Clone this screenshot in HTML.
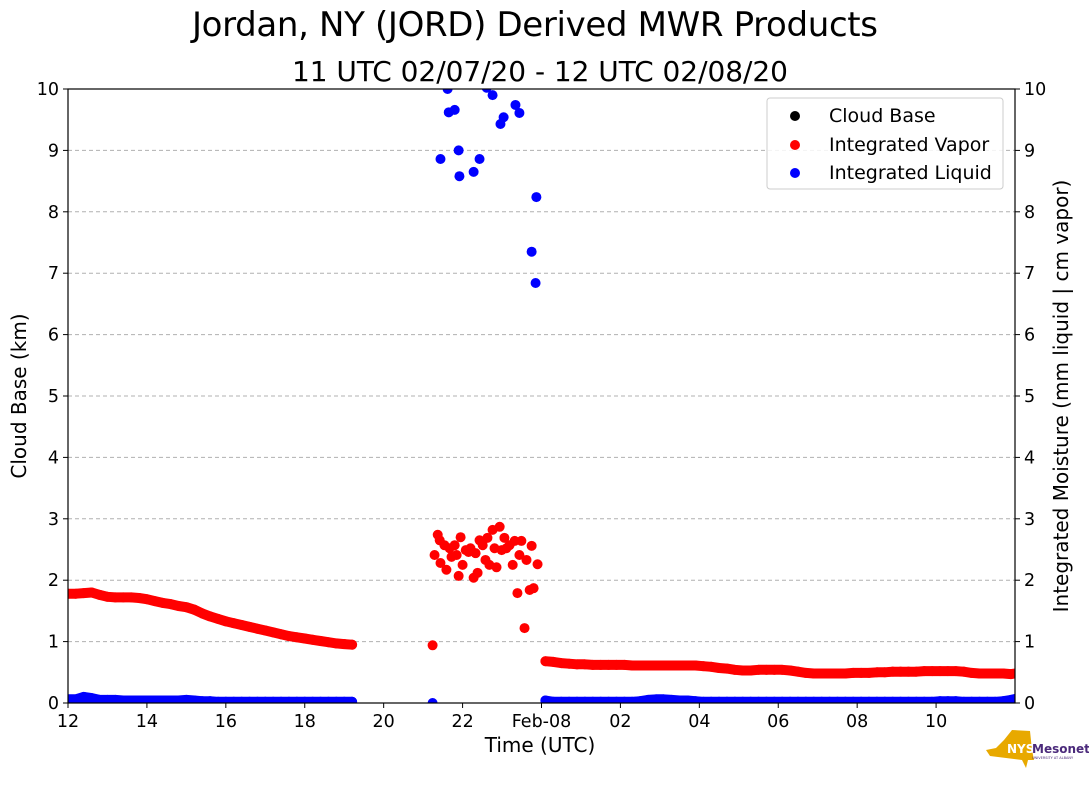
<!DOCTYPE html>
<html><head><meta charset="utf-8"><style>
body{margin:0;background:#fff;}
svg text{font-family:"DejaVu Sans","Liberation Sans",sans-serif;}
</style></head><body>
<svg id="chart" width="1089" height="804" xmlns="http://www.w3.org/2000/svg">
<defs><clipPath id="pc"><rect x="68" y="89" width="947" height="614"/></clipPath></defs>
<rect width="1089" height="804" fill="#fff"/>
<text x="535" y="36" font-size="34" text-anchor="middle" textLength="686">Jordan, NY (JORD) Derived MWR Products</text>
<text x="540" y="81" font-size="28" text-anchor="middle" textLength="496">11 UTC 02/07/20 - 12 UTC 02/08/20</text>
<g id="grid"></g>
<g id="marks" clip-path="url(#pc)"></g>
<rect x="68" y="89" width="947" height="614" fill="none" stroke="#000" stroke-width="1.2"/>
<g id="axes"></g>
<text x="540" y="752" font-size="20" text-anchor="middle">Time (UTC)</text>
<text transform="translate(26,396) rotate(-90)" font-size="20" text-anchor="middle">Cloud Base (km)</text>
<text transform="translate(1068,396) rotate(-90)" font-size="20" text-anchor="middle">Integrated Moisture (mm liquid | cm vapor)</text>
<g>
<rect x="767" y="98" width="236" height="91" rx="3" fill="#fff" fill-opacity="0.85" stroke="#ccc"/>
<circle cx="795" cy="116" r="5" fill="#000"/><text x="829" y="122" font-size="19">Cloud Base</text>
<circle cx="795" cy="145" r="5" fill="red"/><text x="829" y="151" font-size="19">Integrated Vapor</text>
<circle cx="795" cy="173" r="5" fill="blue"/><text x="829" y="179" font-size="19">Integrated Liquid</text>
</g>
<g>
<path d="M1012 730 L1030 731 L1032 750 L1034 760 L1028 760 L1026 768 L1022 760 L990 756 L986 750 L996 748 L1004 740 Z" fill="#e8a900"/>
<text x="1007" y="753" font-size="12" font-weight="bold" fill="#fff">NYS</text>
<text x="1032" y="753" font-size="12" font-weight="bold" fill="#4b2a7b">Mesonet</text>
<text x="1032" y="759" font-size="3.5" fill="#4b2a7b">UNIVERSITY AT ALBANY</text>
</g>
</svg>
<script>
const xTickHours=[12,14,16,18,20,22,24,26,28,30,32,34];
const xTickLabels=["12","14","16","18","20","22","Feb-08","02","04","06","08","10"];
const yTicks=[0,1,2,3,4,5,6,7,8,9,10];
const vaporEarlyStart=12.0, vaporEarlyStep=0.2;
const vaporEarly=[1.78,1.78,1.79,1.80,1.76,1.73,1.72,1.72,1.72,1.71,1.69,1.66,1.63,1.61,1.58,1.56,1.52,1.46,1.41,1.37,1.33,1.30,1.27,1.24,1.21,1.18,1.15,1.12,1.09,1.07,1.05,1.03,1.01,0.99,0.97,0.96,0.95];
const vaporLateStart=24.1, vaporLateStep=0.2;
const vaporLate=[0.68,0.67,0.65,0.64,0.63,0.63,0.62,0.62,0.62,0.62,0.62,0.61,0.61,0.61,0.61,0.61,0.61,0.61,0.61,0.61,0.60,0.59,0.57,0.56,0.54,0.53,0.53,0.54,0.54,0.54,0.54,0.53,0.51,0.49,0.48,0.48,0.48,0.48,0.48,0.49,0.49,0.49,0.50,0.50,0.51,0.51,0.51,0.51,0.52,0.52,0.52,0.52,0.52,0.51,0.49,0.48,0.48,0.48,0.48,0.47,0.49];
const vaporClusterT=[21.24,21.29,21.37,21.42,21.44,21.54,21.59,21.67,21.72,21.80,21.85,21.90,21.95,22.00,22.08,22.15,22.20,22.28,22.33,22.38,22.43,22.51,22.58,22.63,22.68,22.76,22.81,22.86,22.94,22.99,23.06,23.11,23.19,23.27,23.32,23.39,23.44,23.49,23.57,23.62,23.70,23.75,23.80,23.90];
const vaporClusterV=[0.94,2.41,2.74,2.65,2.28,2.57,2.17,2.52,2.38,2.57,2.41,2.07,2.70,2.25,2.49,2.46,2.52,2.04,2.44,2.12,2.65,2.57,2.33,2.69,2.25,2.82,2.52,2.21,2.87,2.49,2.69,2.52,2.57,2.25,2.64,1.79,2.41,2.64,1.22,2.33,1.84,2.56,1.87,2.26];
const liquidHighT=[21.44,21.62,21.65,21.80,21.90,21.92,22.28,22.43,22.61,22.76,22.96,23.04,23.34,23.44,23.75,23.85,23.87];
const liquidHighV=[8.86,10.0,9.62,9.66,9.0,8.58,8.65,8.86,10.02,9.9,9.43,9.54,9.74,9.61,7.35,6.84,8.24];
const liquidEarly=[0.06,0.06,0.10,0.08,0.05,0.05,0.05,0.04,0.04,0.04,0.04,0.04,0.04,0.04,0.04,0.05,0.04,0.03,0.03,0.02,0.02,0.02,0.02,0.02,0.02,0.02,0.02,0.02,0.02,0.02,0.02,0.02,0.02,0.02,0.02,0.02,0.02];
const liquidLate=[0.04,0.02,0.02,0.02,0.02,0.02,0.02,0.02,0.02,0.02,0.02,0.02,0.03,0.05,0.06,0.06,0.05,0.04,0.04,0.03,0.02,0.02,0.02,0.02,0.02,0.02,0.02,0.02,0.02,0.02,0.02,0.02,0.02,0.02,0.02,0.02,0.02,0.02,0.02,0.02,0.02,0.02,0.02,0.02,0.02,0.02,0.02,0.02,0.02,0.02,0.03,0.03,0.03,0.02,0.02,0.02,0.02,0.02,0.03,0.05,0.08];
const liquidIsoT=[21.24], liquidIsoV=[0.0];

const NS="http://www.w3.org/2000/svg";
const X0=68,X1=1015,Y0=703,Y1=89,TMIN=12,TMAX=36,VMIN=0,VMAX=10;
const xs=t=>X0+(t-TMIN)/(TMAX-TMIN)*(X1-X0);
const ys=v=>Y0-(v-VMIN)/(VMAX-VMIN)*(Y0-Y1);
function mk(tag,attrs,parent){const e=document.createElementNS(NS,tag);for(const k in attrs)e.setAttribute(k,attrs[k]);parent.appendChild(e);return e;}
const grid=document.getElementById('grid'),axes=document.getElementById('axes'),marks=document.getElementById('marks');
yTicks.forEach(v=>{
  const y=ys(v);
  if(v>0&&v<10){const g=mk('line',{x1:X0,x2:X1,y1:y,y2:y,stroke:'#b0b0b0','stroke-dasharray':'4,3'},grid);
  
  }
  mk('line',{x1:X0-5,x2:X0,y1:y,y2:y,stroke:'#000'},axes);
  mk('line',{x1:X1,x2:X1+5,y1:y,y2:y,stroke:'#000'},axes);
  const t1=mk('text',{x:X0-9,y:y+6,'font-size':17.5,'text-anchor':'end'},axes);t1.textContent=v;
  
  
  const t2=mk('text',{x:X1+9,y:y+6,'font-size':17.5},axes);t2.textContent=v;
  
  
});
xTickHours.forEach((h,i)=>{
  const x=xs(h);
  mk('line',{x1:x,x2:x,y1:Y0,y2:Y0+5,stroke:'#000'},axes);
  const t=mk('text',{x:x,y:Y0+24,'font-size':17.5,'text-anchor':'middle'},axes);t.textContent=xTickLabels[i];
  
  
});
function band(start,step,vals,c,name){
  const pts=vals.map((v,i)=>xs(start+i*step).toFixed(1)+','+ys(v).toFixed(1)).join(' ');
  const p=mk('polyline',{points:pts,fill:'none',stroke:c,'stroke-width':10,'stroke-linecap':'round','stroke-linejoin':'round'},marks);
  
  
}
function dot(t,v,c,name){const e=mk('circle',{cx:xs(t),cy:ys(v),r:5,fill:c},marks);
  
  }
band(vaporEarlyStart,vaporEarlyStep,vaporEarly,'red','vapor-band-early');
band(vaporLateStart,vaporLateStep,vaporLate,'red','vapor-band-late');
band(vaporEarlyStart,vaporEarlyStep,liquidEarly,'blue','liquid-band-early');
band(vaporLateStart,vaporLateStep,liquidLate,'blue','liquid-band-late');
vaporEarly.forEach((v,i)=>dot(vaporEarlyStart+i*vaporEarlyStep,v,'red','vapor-point'));
vaporLate.forEach((v,i)=>dot(vaporLateStart+i*vaporLateStep,v,'red','vapor-point'));
vaporClusterT.forEach((t,i)=>dot(t,vaporClusterV[i],'red','vapor-point'));
liquidEarly.forEach((v,i)=>dot(vaporEarlyStart+i*vaporEarlyStep,v,'blue','liquid-point'));
liquidLate.forEach((v,i)=>dot(vaporLateStart+i*vaporLateStep,v,'blue','liquid-point'));
liquidHighT.forEach((t,i)=>dot(t,liquidHighV[i],'blue','liquid-point'));
liquidIsoT.forEach((t,i)=>dot(t,liquidIsoV[i],'blue','liquid-point'));
</script>
</body></html>
